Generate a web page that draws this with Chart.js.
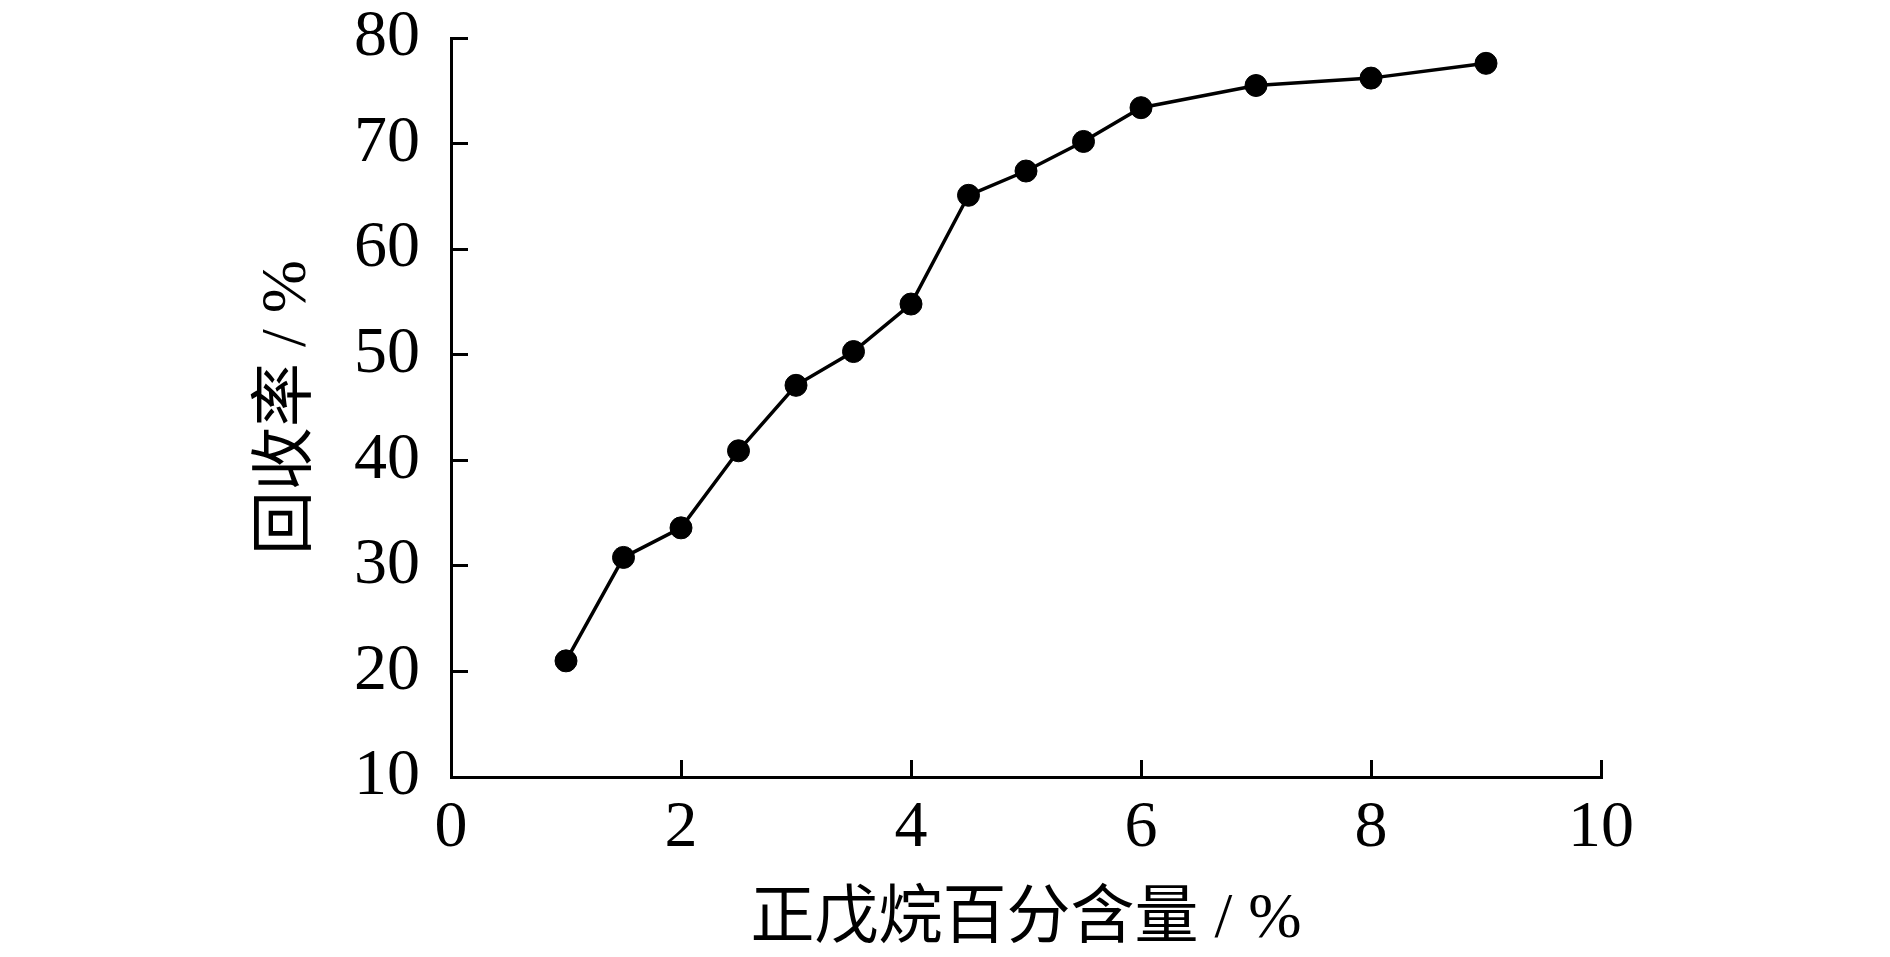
<!DOCTYPE html>
<html>
<head>
<meta charset="utf-8">
<script src="https://cdn.jsdelivr.net/npm/chart.js@4/dist/chart.umd.min.js"></script>
<style>
html,body{margin:0;padding:0;background:#fff;}
#wrap{width:1890px;height:957px;position:relative;}
</style>
</head>
<body>
<div id="wrap"><canvas id="c"></canvas></div>
<script>
// n-pentane percentage (%)
const pentanePct = [1, 1.5, 2, 2.5, 3, 3.5, 4, 4.5, 5, 5.5, 6, 7, 8, 9];
// recovery rate (%)
const recoveryRate = [21.0, 30.8, 33.6, 40.9, 47.1, 50.3, 54.8, 65.1, 67.4, 70.2, 73.4, 75.5, 76.2, 77.6];
const xTitle = '正戊烷百分含量 / %';
const yTitle = '回收率 / %';
const xRange = [0, 10, 2];
const yRange = [10, 80, 10];

const points = pentanePct.map((x, i) => ({x: x, y: recoveryRate[i]}));
const serif = "'Liberation Serif', 'Times New Roman', 'Noto Sans CJK SC', serif";

new Chart(document.getElementById('c'), {
  type: 'line',
  data: {
    datasets: [{
      data: points,
      borderColor: '#000',
      borderWidth: 3.5,
      backgroundColor: '#000',
      pointRadius: 11,
      pointHoverRadius: 11,
      pointBackgroundColor: '#000',
      pointBorderColor: '#000',
      pointBorderWidth: 1,
      tension: 0,
      fill: false
    }]
  },
  options: {
    responsive: true,
    maintainAspectRatio: false,
    animation: false,
    events: [],
    layout: { padding: { left: 0, right: 289, top: 38, bottom: 0 } },
    plugins: { legend: { display: false }, tooltip: { enabled: false } },
    scales: {
      x: {
        type: 'linear',
        min: xRange[0], max: xRange[1],
        afterFit: s => { s.height = 180; s.paddingLeft = 20; s.paddingRight = 20; },
        ticks: { stepSize: xRange[2], color: '#000', padding: 36, autoSkip: false, maxRotation: 0,
                 font: { family: serif, size: 66, lineHeight: 1 } },
        grid: { drawOnChartArea: false, drawTicks: true, tickLength: -17, color: '#000', lineWidth: 3 },
        border: { display: true, color: '#000', width: 3 },
        title: { display: true, text: xTitle, color: '#000', padding: { top: 0, bottom: 5 },
                 font: { family: serif, size: 64, lineHeight: 1 } }
      },
      y: {
        type: 'linear',
        min: yRange[0], max: yRange[1],
        afterFit: s => { s.width = 451; s.paddingTop = 20; s.paddingBottom = 20; },
        ticks: { stepSize: yRange[2], color: '#000', padding: 48, autoSkip: false,
                 font: { family: serif, size: 66, lineHeight: 1 } },
        grid: { drawOnChartArea: false, drawTicks: true, tickLength: -17, color: '#000', lineWidth: 3 },
        border: { display: true, color: '#000', width: 3 },
        title: { display: true, text: yTitle, color: '#000', padding: { top: 256, bottom: 0 },
                 font: { family: serif, size: 64, lineHeight: 1 } }
      }
    }
  }
});
</script>
</body>
</html>
